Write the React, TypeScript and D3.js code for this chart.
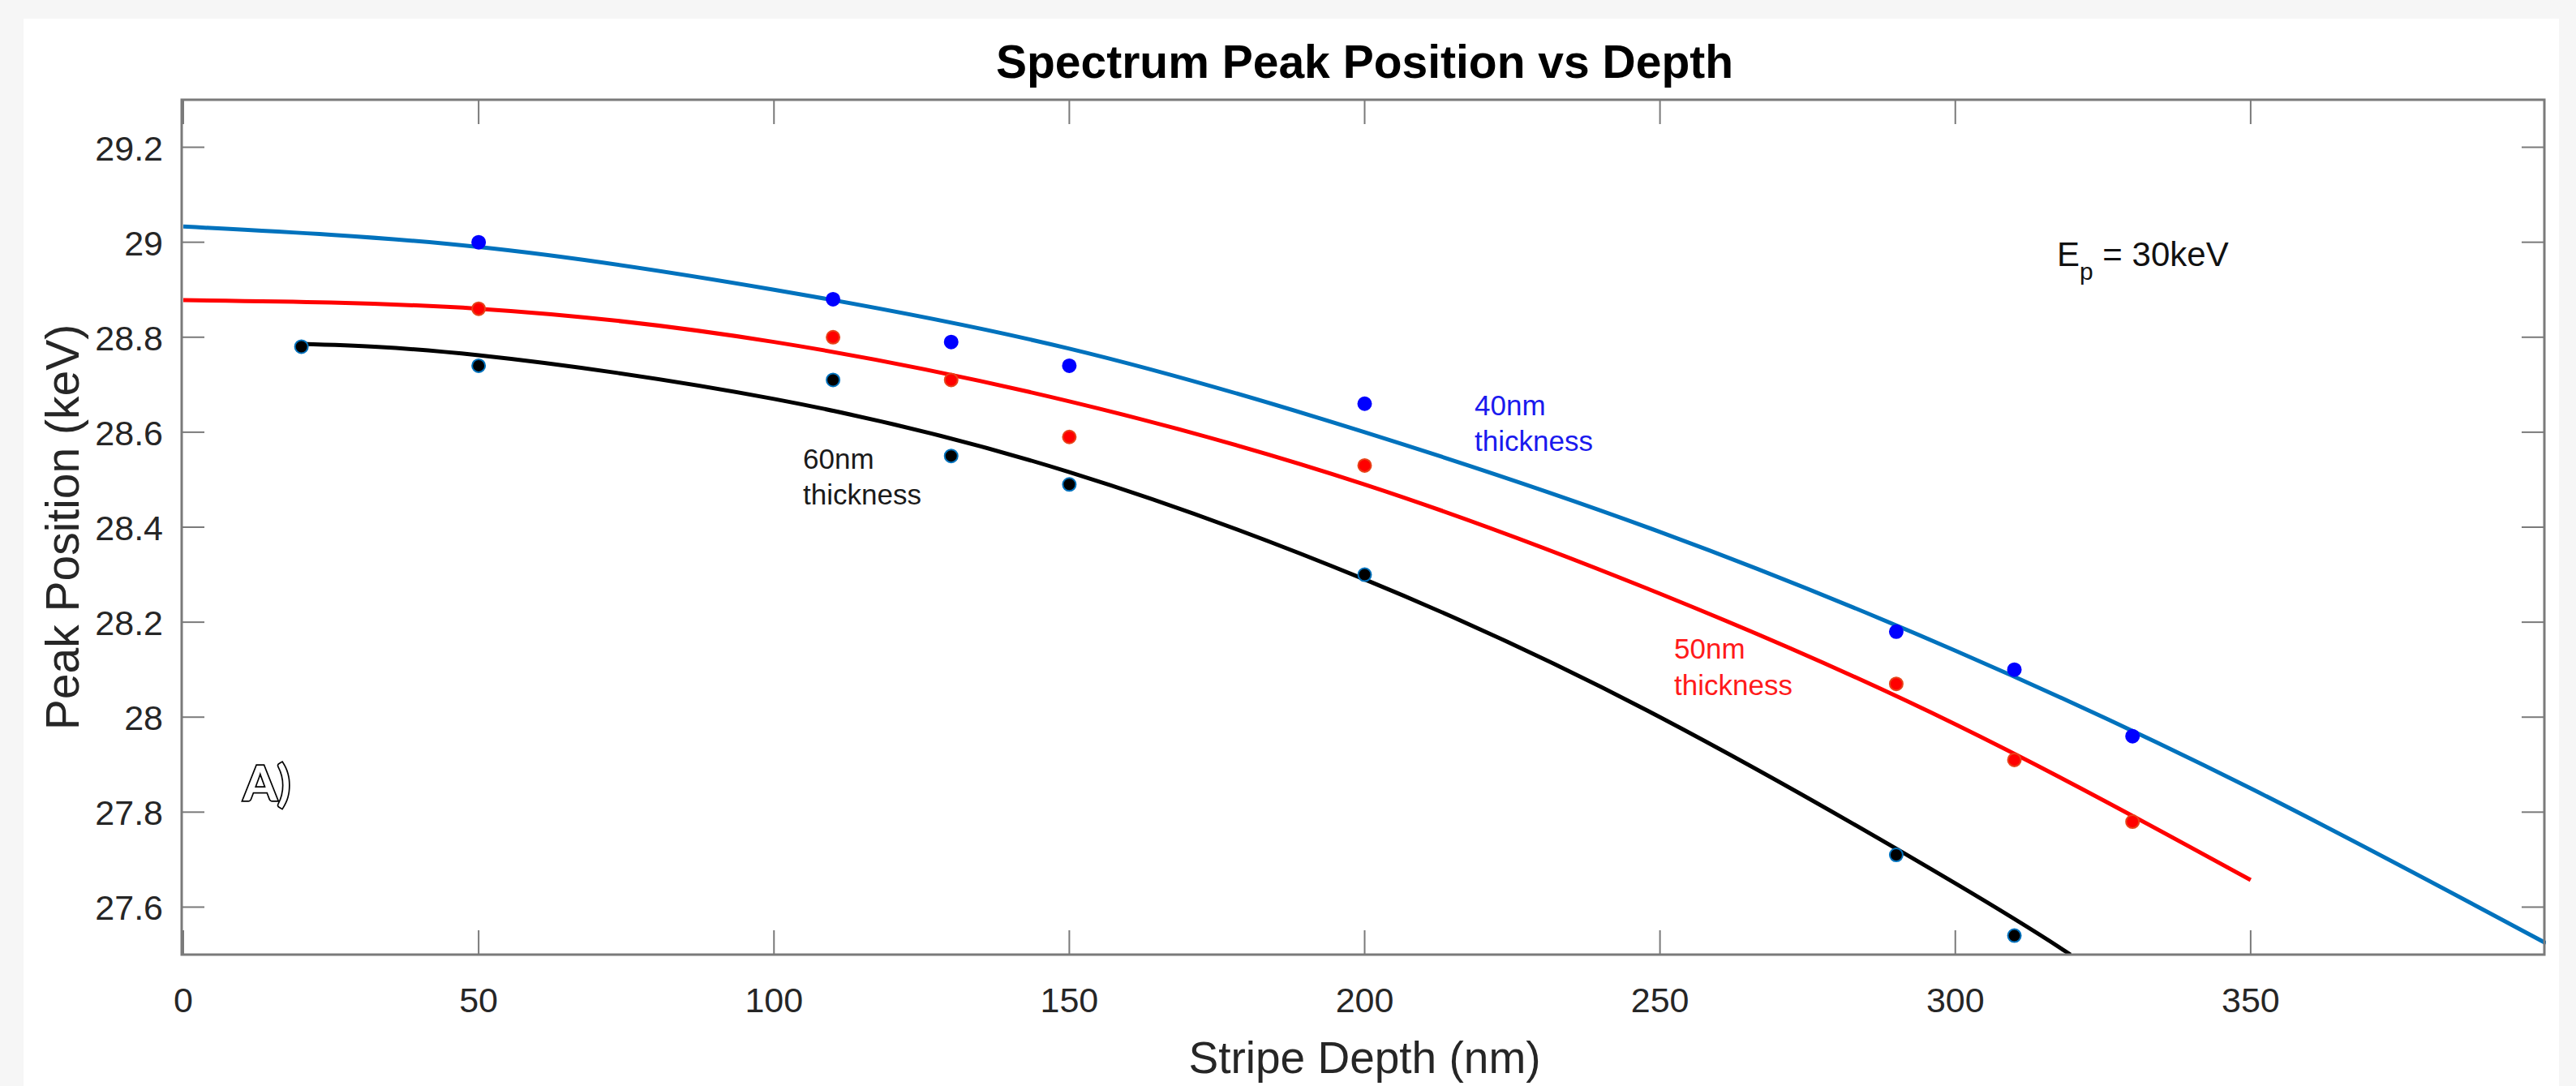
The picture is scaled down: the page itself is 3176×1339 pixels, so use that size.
import { useMemo } from 'react';
import * as d3 from 'd3';

// measured points (Stripe Depth nm -> Peak Position keV)
const depth40 = [50, 110, 130, 150, 200, 290, 310, 330];
const peak40 = [29.0, 28.88, 28.79, 28.74, 28.66, 28.18, 28.1, 27.96];
const depth50 = [50, 110, 130, 150, 200, 290, 310, 330];
const peak50 = [28.86, 28.8, 28.71, 28.59, 28.53, 28.07, 27.91, 27.78];
const depth60 = [20, 50, 110, 130, 150, 200, 290, 310];
const peak60 = [28.78, 28.74, 28.71, 28.55, 28.49, 28.3, 27.71, 27.54];

// fitted curves
const fitDepth40 = [0, 50, 100, 150, 200, 250, 300, 350, 400];
const fit40 = [29.033, 28.99, 28.9, 28.776, 28.6, 28.39, 28.14, 27.85, 27.524];
const fitDepth50 = [0, 50, 100, 150, 200, 250, 300, 350];
const fit50 = [28.878, 28.86, 28.79, 28.665, 28.49, 28.26, 27.985, 27.657];
const fitDepth60 = [20, 50, 100, 150, 200, 250, 300, 319.5];
const fit60 = [28.786, 28.762, 28.67, 28.516, 28.29, 28.0, 27.65, 27.5];

const xTicks = [0, 50, 100, 150, 200, 250, 300, 350];
const yTicks = [27.6, 27.8, 28, 28.2, 28.4, 28.6, 28.8, 29, 29.2];

const W = 3176;
const H = 1339;
const PLOT = { left: 226, right: 3139, top: 123, bottom: 1177 };
const FONT = '"Liberation Sans", Arial, Helvetica, sans-serif';
const AXIS = '#7a7a7a';
const TICK_TEXT = '#262626';

const zip = (xs: number[], ys: number[]) => xs.map((x, i) => [x, ys[i]] as [number, number]);

export default function App() {
  const chart = useMemo(() => {
    const x = d3.scaleLinear().domain([0, 400]).range([PLOT.left, PLOT.right]);
    const y = d3.scaleLinear().domain([27.5, 29.3]).range([PLOT.bottom, PLOT.top]);
    const line = d3
      .line<[number, number]>()
      .x((d) => x(d[0]))
      .y((d) => y(d[1]))
      .curve(d3.curveNatural);
    return {
      x,
      y,
      fits: [
        { d: line(zip(fitDepth40, fit40)) ?? '', color: '#0072BD' },
        { d: line(zip(fitDepth50, fit50)) ?? '', color: '#ff0000' },
        { d: line(zip(fitDepth60, fit60)) ?? '', color: '#000000' },
      ],
      dots: [
        { pts: zip(depth40, peak40), fill: '#0000ff', stroke: '#0000ff' },
        { pts: zip(depth50, peak50), fill: '#ff0000', stroke: '#e8431a' },
        { pts: zip(depth60, peak60), fill: '#000000', stroke: '#0072BD' },
      ],
    };
  }, []);

  const { x, y } = chart;

  return (
    <svg
      width={W}
      height={H}
      viewBox={`0 0 ${W} ${H}`}
      style={{ position: 'absolute', left: 0, top: 0, display: 'block' }}
    >
      <rect x={0} y={0} width={W} height={H} fill="#f6f6f6" />
      <rect x={29} y={23} width={3126} height={H - 23} fill="#ffffff" />

      <defs>
        <clipPath id="plot-clip">
          <rect
            x={PLOT.left}
            y={PLOT.top}
            width={PLOT.right - PLOT.left}
            height={PLOT.bottom - PLOT.top}
          />
        </clipPath>
      </defs>

      {/* Title */}
      <text
        x={(PLOT.left + PLOT.right) / 2}
        y={96}
        textAnchor="middle"
        fontFamily={FONT}
        fontWeight="bold"
        fontSize={57}
        fill="#000"
      >
        Spectrum Peak Position vs Depth
      </text>

      {/* Fitted curves */}
      <g clipPath="url(#plot-clip)">
        {chart.fits.map((f, i) => (
          <path key={i} d={f.d} fill="none" stroke={f.color} strokeWidth={5} />
        ))}
      </g>

      {/* Data points */}
      {chart.dots.map((s, i) => (
        <g key={i}>
          {s.pts.map(([dx, dy]) => (
            <circle
              key={dx}
              cx={x(dx)}
              cy={y(dy)}
              r={8}
              fill={s.fill}
              stroke={s.stroke}
              strokeWidth={2}
            />
          ))}
        </g>
      ))}

      {/* Axes box + ticks */}
      <rect
        x={PLOT.left - 2}
        y={PLOT.top}
        width={PLOT.right - PLOT.left}
        height={PLOT.bottom - PLOT.top}
        fill="none"
        stroke={AXIS}
        strokeWidth={3}
      />
      {xTicks.map((t) => (
        <g key={t}>
          <line x1={x(t)} x2={x(t)} y1={PLOT.bottom} y2={PLOT.bottom - 30} stroke={AXIS} strokeWidth={2} />
          <line x1={x(t)} x2={x(t)} y1={PLOT.top} y2={PLOT.top + 30} stroke={AXIS} strokeWidth={2} />
          <text
            x={x(t)}
            y={1248}
            textAnchor="middle"
            fontFamily={FONT}
            fontSize={43}
            fill={TICK_TEXT}
          >
            {t}
          </text>
        </g>
      ))}
      {yTicks.map((t) => (
        <g key={t}>
          <line x1={PLOT.left - 2} x2={PLOT.left + 26} y1={y(t)} y2={y(t)} stroke={AXIS} strokeWidth={2} />
          <line x1={PLOT.right - 2} x2={PLOT.right - 30} y1={y(t)} y2={y(t)} stroke={AXIS} strokeWidth={2} />
          <text
            x={201}
            y={y(t) + 16}
            textAnchor="end"
            fontFamily={FONT}
            fontSize={43}
            fill={TICK_TEXT}
          >
            {d3.format('~g')(t)}
          </text>
        </g>
      ))}

      {/* Axis labels */}
      <text
        x={(PLOT.left + PLOT.right) / 2}
        y={1323}
        textAnchor="middle"
        fontFamily={FONT}
        fontSize={55}
        fill={TICK_TEXT}
      >
        Stripe Depth (nm)
      </text>
      <text
        transform={`translate(97,${(PLOT.top + PLOT.bottom) / 2}) rotate(-90)`}
        textAnchor="middle"
        fontFamily={FONT}
        fontSize={57}
        fill={TICK_TEXT}
      >
        Peak Position (keV)
      </text>

      {/* Annotations */}
      <text x={2536} y={328} fontFamily={FONT} fontSize={42} fill="#111">
        E
        <tspan fontSize={30} dy={17}>p</tspan>
        <tspan dy={-17}> = 30keV</tspan>
      </text>

      <text fontFamily={FONT} fontSize={35} fill="#1a1aee">
        <tspan x={1818} y={512}>40nm</tspan>
        <tspan x={1818} y={556}>thickness</tspan>
      </text>
      <text fontFamily={FONT} fontSize={35} fill="#ff1a1a">
        <tspan x={2064} y={812}>50nm</tspan>
        <tspan x={2064} y={857}>thickness</tspan>
      </text>
      <text fontFamily={FONT} fontSize={35} fill="#1a1a1a">
        <tspan x={990} y={578}>60nm</tspan>
        <tspan x={990} y={622}>thickness</tspan>
      </text>

      <text
        x={300}
        y={987}
        fontFamily='Lato, "Open Sans", sans-serif'
        fontWeight="bold"
        fontSize={60}
        fill="#ffffff"
        stroke="#000"
        strokeWidth={3.5}
        paintOrder="stroke"
      >
        A)
      </text>
    </svg>
  );
}
